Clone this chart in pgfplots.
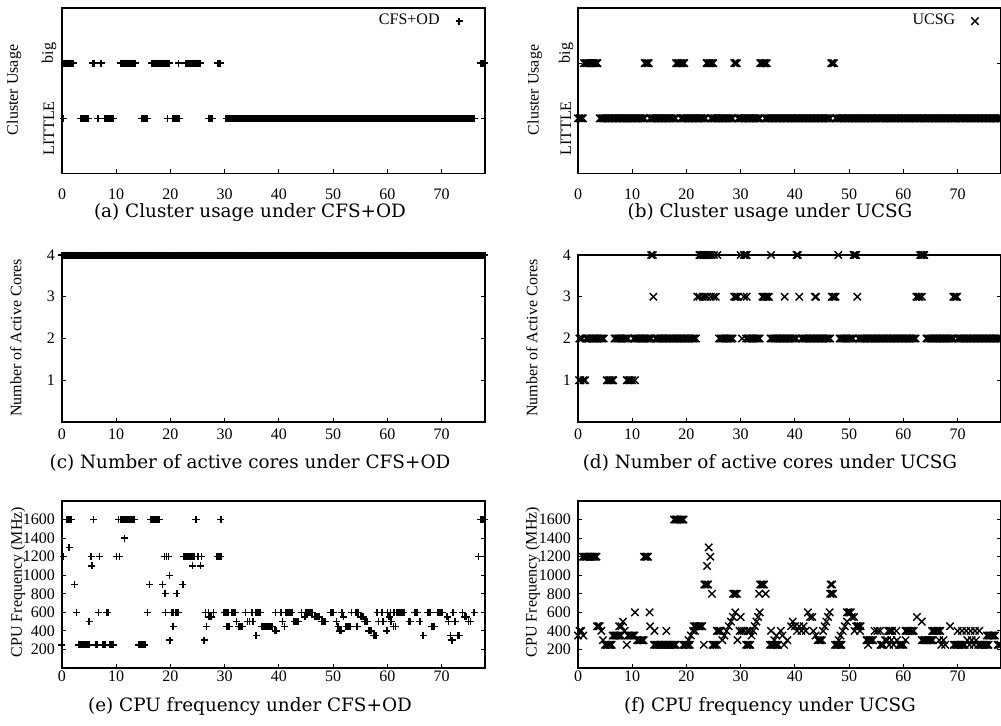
\documentclass[border=0pt]{standalone}
\usepackage{fontspec}
\setmainfont{Liberation Serif}
\newfontfamily\capfont{DejaVu Serif}
\usepackage{pgfplots}
\pgfplotsset{compat=1.18}

\newcommand\axfont{\fontsize{8}{9.6}\selectfont}
\newcommand\capsize{\capfont\fontsize{9.2}{11}\selectfont}

\pgfplotsset{
  panel/.style={
    scale only axis, width=211.5pt,
    xmin=0, xmax=78, xtick={0,10,...,70},
    tick align=inside, xtick pos=lower, ytick pos=both,
    major tick length=2.2pt,
    clip=false,
    axis line style={line width=0.6pt},
    every tick/.append style={line width=0.5pt, black},
    tick label style={font=\axfont},
    label style={font=\axfont},
    /pgf/number format/assume math mode=true,
    /pgf/number format/1000 sep={},
    legend plot pos=right,
    legend style={draw=none, fill=none, font=\axfont, at={(0.948,0.921)}, anchor=east,
      inner sep=0pt, column sep=6pt},
  },
  cfs/.style={only marks, mark=+, mark size=1.75pt, mark options={line width=0.7pt, black}},
  ucsg/.style={only marks, mark=x, mark size=2.6pt, mark options={line width=0.7pt, black}},
}

\begin{document}
\begin{tikzpicture}
\useasboundingbox (0,0) rectangle (500.5pt,-362.5pt);

% (a) cluster usage, CFS+OD
\begin{axis}[panel, at={(31pt,-86.75pt)}, anchor=south west, height=82.75pt,
  ymin=0, ymax=3, ytick={1,2}, yticklabels={,,}, xticklabel style={yshift=-4pt},
  ylabel={Cluster Usage}, ylabel style={at={(axis description cs:-0.1135,0.505)}, anchor=center}]
\addplot[cfs] coordinates {
(0.4,2)(0.65,2)(0.9,2)(1.15,2)(1.4,2)(1.65,2)(1.9,2)(2.1,2)(5.6,2)(5.8,2)(6.0,2)(7.2,2)
(10.75,2)(11,2)(11.25,2)(11.5,2)(11.75,2)(12,2)(12.25,2)(12.5,2)(12.75,2)(13,2)(13.25,2)(13.5,2)
(16.5,2)(16.75,2)(17,2)(17.25,2)(17.5,2)(17.75,2)(18,2)(18.25,2)(18.5,2)(18.75,2)(19,2)(19.25,2)(19.5,2)(19.75,2)
(21.5,2)(22.75,2)(23,2)(23.25,2)(23.5,2)(23.75,2)(24,2)(24.25,2)(24.5,2)(24.75,2)(25,2)(25.25,2)(25.5,2)
(28.75,2)(29,2)(29.25,2)(77.25,2)(77.5,2)(77.75,2)(78,2)
(0.25,1)(3.4,1)(3.65,1)(3.9,1)(4.15,1)(4.4,1)(4.65,1)(4.9,1)(6.5,1)(6.75,1)
(7.9,1)(8.15,1)(8.4,1)(8.65,1)(8.9,1)(9.15,1)(9.4,1)(9.5,1)(14.75,1)(15,1)(15.25,1)(15.5,1)(15.75,1)
(19.5,1)(20.5,1)(20.75,1)(21,1)(21.25,1)(21.5,1)(21.7,1)(27,1)(27.25,1)(27.5,1)(27.75,1)
(30.25,1)(30.5,1)(30.75,1)(31,1)(31.25,1)(31.5,1)(31.75,1)(32,1)(32.25,1)(32.5,1)(32.75,1)(33,1)(33.25,1)(33.5,1)
(33.75,1)(34,1)(34.25,1)(34.5,1)(34.75,1)(35,1)(35.25,1)(35.5,1)(35.75,1)(36,1)(36.25,1)(36.5,1)(36.75,1)(37,1)
(37.25,1)(37.5,1)(37.75,1)(38,1)(38.25,1)(38.5,1)(38.75,1)(39,1)(39.25,1)(39.5,1)(39.75,1)(40,1)(40.25,1)(40.5,1)
(40.75,1)(41,1)(41.25,1)(41.5,1)(41.75,1)(42,1)(42.25,1)(42.5,1)(42.75,1)(43,1)(43.25,1)(43.5,1)(43.75,1)(44,1)
(44.25,1)(44.5,1)(44.75,1)(45,1)(45.25,1)(45.5,1)(45.75,1)(46,1)(46.25,1)(46.5,1)(46.75,1)(47,1)(47.25,1)(47.5,1)
(47.75,1)(48,1)(48.25,1)(48.5,1)(48.75,1)(49,1)(49.25,1)(49.5,1)(49.75,1)(50,1)(50.25,1)(50.5,1)(50.75,1)(51,1)
(51.25,1)(51.5,1)(51.75,1)(52,1)(52.25,1)(52.5,1)(52.75,1)(53,1)(53.25,1)(53.5,1)(53.75,1)(54,1)(54.25,1)(54.5,1)
(54.75,1)(55,1)(55.25,1)(55.5,1)(55.75,1)(56,1)(56.25,1)(56.5,1)(56.75,1)(57,1)(57.25,1)(57.5,1)(57.75,1)(58,1)
(58.25,1)(58.5,1)(58.75,1)(59,1)(59.25,1)(59.5,1)(59.75,1)(60,1)(60.25,1)(60.5,1)(60.75,1)(61,1)(61.25,1)(61.5,1)
(61.75,1)(62,1)(62.25,1)(62.5,1)(62.75,1)(63,1)(63.25,1)(63.5,1)(63.75,1)(64,1)(64.25,1)(64.5,1)(64.75,1)(65,1)
(65.25,1)(65.5,1)(65.75,1)(66,1)(66.25,1)(66.5,1)(66.75,1)(67,1)(67.25,1)(67.5,1)(67.75,1)(68,1)(68.25,1)(68.5,1)
(68.75,1)(69,1)(69.25,1)(69.5,1)(69.75,1)(70,1)(70.25,1)(70.5,1)(70.75,1)(71,1)(71.25,1)(71.5,1)(71.75,1)(72,1)
(72.25,1)(72.5,1)(72.75,1)(73,1)(73.25,1)(73.5,1)(73.75,1)(74,1)(74.25,1)(74.5,1)(74.75,1)(75,1)(75.25,1)(75.5,1)
(75.75,1)(76,1)
};
\addlegendentry{CFS+OD}
\end{axis}

% (b) cluster usage, UCSG
\begin{axis}[panel, at={(289pt,-86.75pt)}, anchor=south west, height=82.75pt,
  ymin=0, ymax=3, ytick={1,2}, yticklabels={,,}, xticklabel style={yshift=-4pt},
  ylabel={Cluster Usage}, ylabel style={at={(axis description cs:-0.102,0.505)}, anchor=center}]
\addplot[ucsg] coordinates {
(1.1,2)(1.35,2)(1.6,2)(1.85,2)(2.1,2)(2.35,2)(2.6,2)(2.85,2)(3.1,2)(3.35,2)(3.6,2)
(12.3,2)(12.55,2)(12.8,2)(13.05,2)(18.1,2)(18.35,2)(18.6,2)(18.85,2)(19.1,2)(19.35,2)(19.6,2)
(23.7,2)(23.95,2)(24.2,2)(24.45,2)(24.7,2)(24.95,2)(28.8,2)(29.05,2)(29.3,2)
(33.6,2)(33.85,2)(34.1,2)(34.35,2)(34.6,2)(34.8,2)(46.7,2)(46.95,2)(47.2,2)
(0,1)(0.3,1)(0.6,1)(0.9,1)
(4,1)(4.25,1)(4.5,1)(4.75,1)(5,1)(5.25,1)(5.5,1)(5.75,1)(6,1)(6.25,1)(6.5,1)(6.75,1)(7,1)(7.25,1)(7.5,1)(7.75,1)
(8,1)(8.25,1)(8.5,1)(8.75,1)(9,1)(9.25,1)(9.5,1)(9.75,1)(10,1)(10.25,1)(10.5,1)(10.75,1)(11,1)(11.25,1)(11.5,1)
(11.75,1)(12,1)(12.25,1)
(13.25,1)(13.5,1)(13.75,1)(14,1)(14.25,1)(14.5,1)(14.75,1)(15,1)(15.25,1)(15.5,1)(15.75,1)(16,1)(16.25,1)(16.5,1)
(16.75,1)(17,1)(17.25,1)(17.5,1)(17.75,1)(18,1)
(19,1)(19.25,1)(19.5,1)(19.75,1)(20,1)(20.25,1)(20.5,1)(20.75,1)(21,1)(21.25,1)(21.5,1)(21.75,1)(22,1)(22.25,1)
(22.5,1)(22.75,1)(23,1)(23.25,1)(23.5,1)
(24.5,1)(24.75,1)(25,1)(25.25,1)(25.5,1)(25.75,1)(26,1)(26.25,1)(26.5,1)(26.75,1)(27,1)(27.25,1)(27.5,1)(27.75,1)
(28,1)(28.25,1)(28.5,1)
(29.5,1)(29.75,1)(30,1)(30.25,1)(30.5,1)(30.75,1)(31,1)(31.25,1)(31.5,1)(31.75,1)(32,1)(32.25,1)(32.5,1)(32.75,1)
(33,1)(33.25,1)(33.5,1)
(34.5,1)(34.75,1)(35,1)(35.25,1)(35.5,1)(35.75,1)(36,1)(36.25,1)(36.5,1)(36.75,1)(37,1)(37.25,1)(37.5,1)(37.75,1)
(38,1)(38.25,1)(38.5,1)(38.75,1)(39,1)(39.25,1)(39.5,1)(39.75,1)(40,1)(40.25,1)(40.5,1)(40.75,1)(41,1)(41.25,1)
(41.5,1)(41.75,1)(42,1)(42.25,1)(42.5,1)(42.75,1)(43,1)(43.25,1)(43.5,1)(43.75,1)(44,1)(44.25,1)(44.5,1)(44.75,1)
(45,1)(45.25,1)(45.5,1)(45.75,1)(46,1)(46.25,1)(46.5,1)
(47.5,1)(47.75,1)(48,1)(48.25,1)(48.5,1)(48.75,1)(49,1)(49.25,1)(49.5,1)(49.75,1)(50,1)(50.25,1)(50.5,1)(50.75,1)
(51,1)(51.25,1)(51.5,1)(51.75,1)(52,1)(52.25,1)(52.5,1)(52.75,1)(53,1)(53.25,1)(53.5,1)(53.75,1)(54,1)(54.25,1)
(54.5,1)(54.75,1)(55,1)(55.25,1)(55.5,1)(55.75,1)(56,1)(56.25,1)(56.5,1)(56.75,1)(57,1)(57.25,1)(57.5,1)(57.75,1)
(58,1)(58.25,1)(58.5,1)(58.75,1)(59,1)(59.25,1)(59.5,1)(59.75,1)(60,1)(60.25,1)(60.5,1)(60.75,1)(61,1)(61.25,1)
(61.5,1)(61.75,1)(62,1)(62.25,1)(62.5,1)(62.75,1)(63,1)(63.25,1)(63.5,1)(63.75,1)(64,1)(64.25,1)(64.5,1)(64.75,1)
(65,1)(65.25,1)(65.5,1)(65.75,1)(66,1)(66.25,1)(66.5,1)(66.75,1)(67,1)(67.25,1)(67.5,1)(67.75,1)(68,1)(68.25,1)
(68.5,1)(68.75,1)(69,1)(69.25,1)(69.5,1)(69.75,1)(70,1)(70.25,1)(70.5,1)(70.75,1)(71,1)(71.25,1)(71.5,1)(71.75,1)
(72,1)(72.25,1)(72.5,1)(72.75,1)(73,1)(73.25,1)(73.5,1)(73.75,1)(74,1)(74.25,1)(74.5,1)(74.75,1)(75,1)(75.25,1)
(75.5,1)(75.75,1)(76,1)(76.25,1)(76.5,1)(76.75,1)(77,1)(77.25,1)(77.5,1)(77.75,1)(78,1)
};
\addlegendentry{UCSG}
\end{axis}

% (c) active cores, CFS+OD
\begin{axis}[panel, at={(31pt,-211pt)}, anchor=south west, height=83.5pt,
  ymin=0, ymax=4, ytick={1,2,3,4}, xticklabel style={yshift=0pt},
  ylabel={Number of Active Cores}, ylabel style={at={(axis description cs:-0.109,0.503)}, anchor=center}]
\addplot[cfs] coordinates {
(0,4)(0.25,4)(0.5,4)(0.75,4)(1,4)(1.25,4)(1.5,4)(1.75,4)(2,4)(2.25,4)(2.5,4)(2.75,4)(3,4)(3.25,4)(3.5,4)(3.75,4)
(4,4)(4.25,4)(4.5,4)(4.75,4)(5,4)(5.25,4)(5.5,4)(5.75,4)(6,4)(6.25,4)(6.5,4)(6.75,4)(7,4)(7.25,4)(7.5,4)(7.75,4)
(8,4)(8.25,4)(8.5,4)(8.75,4)(9,4)(9.25,4)(9.5,4)(9.75,4)(10,4)(10.25,4)(10.5,4)(10.75,4)(11,4)(11.25,4)(11.5,4)
(11.75,4)(12,4)(12.25,4)(12.5,4)(12.75,4)(13,4)(13.25,4)(13.5,4)(13.75,4)(14,4)(14.25,4)(14.5,4)(14.75,4)(15,4)
(15.25,4)(15.5,4)(15.75,4)(16,4)(16.25,4)(16.5,4)(16.75,4)(17,4)(17.25,4)(17.5,4)(17.75,4)(18,4)(18.25,4)(18.5,4)
(18.75,4)(19,4)(19.25,4)(19.5,4)(19.75,4)(20,4)(20.25,4)(20.5,4)(20.75,4)(21,4)(21.25,4)(21.5,4)(21.75,4)(22,4)
(22.25,4)(22.5,4)(22.75,4)(23,4)(23.25,4)(23.5,4)(23.75,4)(24,4)(24.25,4)(24.5,4)(24.75,4)(25,4)(25.25,4)(25.5,4)
(25.75,4)(26,4)(26.25,4)(26.5,4)(26.75,4)(27,4)(27.25,4)(27.5,4)(27.75,4)(28,4)(28.25,4)(28.5,4)(28.75,4)(29,4)
(29.25,4)(29.5,4)(29.75,4)(30,4)(30.25,4)(30.5,4)(30.75,4)(31,4)(31.25,4)(31.5,4)(31.75,4)(32,4)(32.25,4)(32.5,4)
(32.75,4)(33,4)(33.25,4)(33.5,4)(33.75,4)(34,4)(34.25,4)(34.5,4)(34.75,4)(35,4)(35.25,4)(35.5,4)(35.75,4)(36,4)
(36.25,4)(36.5,4)(36.75,4)(37,4)(37.25,4)(37.5,4)(37.75,4)(38,4)(38.25,4)(38.5,4)(38.75,4)(39,4)(39.25,4)(39.5,4)
(39.75,4)(40,4)(40.25,4)(40.5,4)(40.75,4)(41,4)(41.25,4)(41.5,4)(41.75,4)(42,4)(42.25,4)(42.5,4)(42.75,4)(43,4)
(43.25,4)(43.5,4)(43.75,4)(44,4)(44.25,4)(44.5,4)(44.75,4)(45,4)(45.25,4)(45.5,4)(45.75,4)(46,4)(46.25,4)(46.5,4)
(46.75,4)(47,4)(47.25,4)(47.5,4)(47.75,4)(48,4)(48.25,4)(48.5,4)(48.75,4)(49,4)(49.25,4)(49.5,4)(49.75,4)(50,4)
(50.25,4)(50.5,4)(50.75,4)(51,4)(51.25,4)(51.5,4)(51.75,4)(52,4)(52.25,4)(52.5,4)(52.75,4)(53,4)(53.25,4)(53.5,4)
(53.75,4)(54,4)(54.25,4)(54.5,4)(54.75,4)(55,4)(55.25,4)(55.5,4)(55.75,4)(56,4)(56.25,4)(56.5,4)(56.75,4)(57,4)
(57.25,4)(57.5,4)(57.75,4)(58,4)(58.25,4)(58.5,4)(58.75,4)(59,4)(59.25,4)(59.5,4)(59.75,4)(60,4)(60.25,4)(60.5,4)
(60.75,4)(61,4)(61.25,4)(61.5,4)(61.75,4)(62,4)(62.25,4)(62.5,4)(62.75,4)(63,4)(63.25,4)(63.5,4)(63.75,4)(64,4)
(64.25,4)(64.5,4)(64.75,4)(65,4)(65.25,4)(65.5,4)(65.75,4)(66,4)(66.25,4)(66.5,4)(66.75,4)(67,4)(67.25,4)(67.5,4)
(67.75,4)(68,4)(68.25,4)(68.5,4)(68.75,4)(69,4)(69.25,4)(69.5,4)(69.75,4)(70,4)(70.25,4)(70.5,4)(70.75,4)(71,4)
(71.25,4)(71.5,4)(71.75,4)(72,4)(72.25,4)(72.5,4)(72.75,4)(73,4)(73.25,4)(73.5,4)(73.75,4)(74,4)(74.25,4)(74.5,4)
(74.75,4)(75,4)(75.25,4)(75.5,4)(75.75,4)(76,4)(76.25,4)(76.5,4)(76.75,4)(77,4)(77.25,4)(77.5,4)(77.75,4)(78,4)
};
\end{axis}

% (d) active cores, UCSG
\begin{axis}[panel, at={(289pt,-211pt)}, anchor=south west, height=83.5pt,
  ymin=0, ymax=4, ytick={1,2,3,4}, xticklabel style={yshift=0pt},
  ylabel={Number of Active Cores}, ylabel style={at={(axis description cs:-0.109,0.503)}, anchor=center}]
\addplot[ucsg] coordinates {
(0.2,1)(0.45,1)(1.0,1)(1.3,1)(5.3,1)(5.55,1)(5.8,1)(6.05,1)(6.3,1)(6.5,1)(9.0,1)(9.25,1)(9.5,1)(9.75,1)(10.0,1)(10.5,1)
(0.25,2)(0.5,2)(0.75,2)(1.5,2)(1.75,2)(2,2)(2.25,2)(2.5,2)(2.75,2)(3,2)(3.25,2)(3.5,2)(3.75,2)(4,2)(4.25,2)(4.5,2)
(4.75,2)(6.75,2)(7,2)(7.25,2)(7.5,2)(7.75,2)(8,2)(8.25,2)(8.5,2)(8.75,2)(9,2)(9.25,2)
(10.25,2)(10.5,2)(10.75,2)(11,2)(11.25,2)(11.5,2)(11.75,2)(12,2)(12.25,2)(12.5,2)(12.75,2)(13,2)(13.25,2)(13.5,2)
(14.25,2)(14.5,2)(14.75,2)(15,2)(15.25,2)(15.5,2)(15.75,2)(16,2)(16.25,2)(16.5,2)(16.75,2)(17,2)(17.25,2)(17.5,2)
(17.75,2)(18,2)(18.25,2)(18.5,2)(18.75,2)(19,2)(19.25,2)(19.5,2)(19.75,2)(20,2)(20.25,2)(20.5,2)(20.75,2)(21,2)
(21.25,2)(21.5,2)(21.75,2)
(26,2)(26.25,2)(26.5,2)(26.75,2)(27,2)(27.25,2)(27.5,2)(27.75,2)(28,2)(28.25,2)(28.5,2)(30.25,2)
(31,2)(31.25,2)(31.5,2)(31.75,2)(32,2)(32.25,2)(32.5,2)(32.75,2)(33,2)(33.25,2)(33.5,2)
(35.5,2)(35.75,2)(36,2)(36.25,2)(36.5,2)(36.75,2)(37,2)(37.25,2)(37.5,2)(37.75,2)(38,2)(38.25,2)(38.5,2)(38.75,2)
(39,2)(39.25,2)(39.5,2)(39.75,2)(40,2)(40.25,2)
(41.25,2)(41.5,2)(41.75,2)(42,2)(42.25,2)(42.5,2)(42.75,2)(43,2)(43.25,2)(43.5,2)(43.75,2)(44,2)(44.25,2)(44.5,2)
(44.75,2)(45,2)(45.25,2)(45.5,2)(45.75,2)(46,2)(46.25,2)(46.5,2)
(48.25,2)(48.5,2)(48.75,2)(49,2)(49.25,2)(49.5,2)(49.75,2)(50,2)(50.25,2)(50.5,2)(50.75,2)
(51.75,2)(52,2)(52.25,2)(52.5,2)(52.75,2)(53,2)(53.25,2)(53.5,2)(53.75,2)(54,2)(54.25,2)(54.5,2)(54.75,2)(55,2)
(55.25,2)(55.5,2)(55.75,2)(56,2)(56.25,2)(56.5,2)(56.75,2)(57,2)(57.25,2)(57.5,2)(57.75,2)(58,2)(58.25,2)(58.5,2)
(58.75,2)(59,2)(59.25,2)(59.5,2)(59.75,2)(60,2)(60.25,2)(60.5,2)(60.75,2)(61,2)(61.25,2)(61.5,2)(61.75,2)(62,2)
(62.25,2)
(64.25,2)(64.5,2)(64.75,2)(65,2)(65.25,2)(65.5,2)(65.75,2)(66,2)(66.25,2)(66.5,2)(66.75,2)(67,2)(67.25,2)(67.5,2)
(67.75,2)(68,2)(68.25,2)(68.5,2)(68.75,2)(69,2)(69.25,2)
(70,2)(70.25,2)(70.5,2)(70.75,2)(71,2)(71.25,2)(71.5,2)(71.75,2)(72,2)(72.25,2)(72.5,2)(72.75,2)(73,2)(73.25,2)
(73.5,2)(73.75,2)(74,2)(74.25,2)(74.5,2)(74.75,2)(75,2)(75.25,2)(75.5,2)(75.75,2)(76,2)(76.25,2)(76.5,2)(76.75,2)
(77,2)(77.25,2)(77.5,2)(77.75,2)(78,2)
(13.9,3)(22.0,3)(22.4,3)(23.0,3)(23.4,3)(23.8,3)(24.5,3)(25.0,3)(25.4,3)(28.8,3)(29.05,3)(29.3,3)(29.5,3)(30.6,3)(31.1,3)
(34.0,3)(34.25,3)(34.5,3)(34.75,3)(35.0,3)(35.2,3)(38.1,3)(40.8,3)(43.7,3)(43.9,3)(46.8,3)(47.05,3)(47.3,3)(47.5,3)(51.5,3)
(62.4,3)(62.7,3)(63.0,3)(63.4,3)(69.2,3)(69.45,3)(69.7,3)(69.9,3)
(13.5,4)(13.8,4)(22.4,4)(22.65,4)(22.9,4)(23.15,4)(23.4,4)(23.65,4)(23.9,4)(24.2,4)(24.6,4)(25.1,4)(25.7,4)(30.0,4)(30.6,4)
(30.85,4)(31.1,4)(35.6,4)(40.3,4)(40.55,4)(48.0,4)(50.8,4)(51.05,4)(51.3,4)(63.1,4)(63.35,4)(63.6,4)(63.85,4)
};
\end{axis}

% (e) CPU frequency, CFS+OD
\begin{axis}[panel, at={(31pt,-334pt)}, anchor=south west, height=83.5pt,
  ymin=0, ymax=1800, ytick={200,400,...,1600}, xticklabel style={yshift=2pt},
  ylabel={CPU Frequency (MHz)}, ylabel style={at={(axis description cs:-0.104,0.515)}, anchor=center}]
\addplot[cfs] coordinates {
(0.8,1600)(1.05,1600)(1.3,1600)(1.55,1600)(1.8,1600)(5.8,1600)(10.4,1600)(10.9,1600)(11.15,1600)(11.4,1600)
(11.65,1600)(11.9,1600)(12.15,1600)(12.4,1600)(12.65,1600)(12.9,1600)(13.15,1600)(13.4,1600)
(16.3,1600)(16.55,1600)(16.8,1600)(17.05,1600)(17.3,1600)(17.55,1600)(17.8,1600)(18.0,1600)(24.6,1600)(24.8,1600)
(29.3,1600)(77.2,1600)(77.45,1600)(77.7,1600)(77.9,1600)
(11.5,1400)(1.3,1300)
(0.2,1200)(5.35,1200)(6.9,1200)(10.0,1200)(10.6,1200)(18.9,1200)(19.3,1200)(19.6,1200)(22.4,1200)(22.65,1200)
(22.9,1200)(23.15,1200)(23.4,1200)(23.65,1200)(23.9,1200)(24.15,1200)(24.35,1200)(25.1,1200)(25.7,1200)
(28.6,1200)(28.85,1200)(29.1,1200)(29.3,1200)(76.8,1200)
(5.5,1100)(24.1,1100)(25.5,1100)(19.8,1000)
(2.3,900)(16.1,900)(18.5,900)(22.3,900)(19.0,800)(21.2,800)
(2.7,600)(6.7,600)(8.2,600)(8.45,600)(15.8,600)(19.1,600)(20.3,600)(20.6,600)(20.9,600)(21.2,600)(21.5,600)(26.5,600)
(27.0,600)(27.9,600)(29.9,600)(30.15,600)(30.4,600)(30.65,600)(31.3,600)(31.55,600)(31.8,600)(32.0,600)(33.8,600)
(35.0,600)(35.8,600)(36.05,600)(36.3,600)(36.55,600)(39.4,600)(40.4,600)(41.2,600)(41.45,600)(41.7,600)(41.95,600)
(42.2,600)(42.4,600)(44.2,600)(44.9,600)(45.15,600)(45.4,600)(45.65,600)(45.9,600)(46.1,600)(49.6,600)(49.85,600)
(50.1,600)(51.6,600)(53.4,600)(54.2,600)(54.45,600)(54.7,600)(58.1,600)(59.0,600)(60.0,600)(60.6,600)(61.2,600)
(61.8,600)(62.05,600)(62.3,600)(62.55,600)(62.8,600)(63.05,600)(65.0,600)(65.25,600)(65.5,600)(67.4,600)(67.65,600)
(67.9,600)(69.2,600)(69.45,600)(69.7,600)(69.95,600)(70.2,600)(72.1,600)(73.9,600)(76.0,600)
(27.1,550)(27.35,550)(27.6,550)(44.8,550)(46.6,550)(46.85,550)(47.1,550)(47.4,550)(51.9,550)(55.0,550)(55.3,550)
(55.6,550)(60.3,550)(71.0,550)(74.3,550)(74.6,550)
(5.0,500)(32.2,500)(34.2,500)(34.6,500)(35.2,500)(40.7,500)(42.8,500)(43.05,500)(43.3,500)(43.6,500)(47.8,500)
(48.05,500)(48.3,500)(48.6,500)(50.6,500)(55.8,500)(56.05,500)(56.3,500)(58.4,500)(59.2,500)(60.7,500)(64.0,500)
(64.3,500)(66.0,500)(71.3,500)(72.5,500)(75.0,500)(75.3,500)
(20.5,450)(26.6,450)(30.4,450)(30.65,450)(30.9,450)(32.6,450)(32.85,450)(33.1,450)(33.3,450)(36.8,450)(37.05,450)
(37.3,450)(37.55,450)(37.8,450)(38.05,450)(38.3,450)(38.55,450)(38.8,450)(41.0,450)(50.9,450)(52.4,450)(52.65,450)
(52.9,450)(53.15,450)(54.4,450)(61.1,450)(61.5,450)(68.2,450)(68.45,450)(68.7,450)
(39.3,400)(39.6,400)(51.2,400)(51.45,400)(56.6,400)(56.85,400)(57.1,400)(59.9,400)
(35.8,350)(57.4,350)(57.65,350)(57.9,350)(66.6,350)(71.6,350)(73.0,350)(73.25,350)
(19.9,300)(26.2,300)(71.8,300)(72.0,300)
(0.0,250)(3.0,250)(3.25,250)(3.5,250)(3.75,250)(4.0,250)(4.25,250)(4.5,250)(4.75,250)(4.95,250)(6.2,250)(6.45,250)
(7.5,250)(7.75,250)(8.0,250)(8.8,250)(9.05,250)(9.3,250)(9.5,250)(14.1,250)(14.35,250)(14.6,250)(14.85,250)
(15.1,250)(15.3,250)
};
\end{axis}

% (f) CPU frequency, UCSG
\begin{axis}[panel, at={(289pt,-334pt)}, anchor=south west, height=83.5pt,
  ymin=0, ymax=1800, ytick={200,400,...,1600}, xticklabel style={yshift=2pt},
  ylabel={CPU Frequency (MHz)}, ylabel style={at={(axis description cs:-0.107,0.515)}, anchor=center}]
\addplot[ucsg] coordinates {
(0.9,1200)(1.15,1200)(1.4,1200)(1.65,1200)(1.9,1200)(2.15,1200)(2.4,1200)(2.65,1200)(2.9,1200)(3.15,1200)(3.4,1200)
(12.2,1200)(12.45,1200)(12.7,1200)(12.9,1200)
(17.7,1600)(17.95,1600)(18.2,1600)(18.45,1600)(18.7,1600)(18.95,1600)(19.2,1600)(19.45,1600)
(24.1,1300)(24.4,1200)(23.8,1100)(23.3,900)(23.55,900)(23.8,900)(24.0,900)(24.7,800)
(28.6,800)(28.85,800)(29.1,800)(29.3,800)(33.6,900)(33.85,900)(34.1,900)(34.3,900)(33.4,800)(34.6,800)
(46.6,900)(46.85,900)(46.5,800)(46.8,800)(47.05,800)
(10.5,600)(13.2,600)
(0.0,350)(0.3,400)(0.6,400)(1.0,350)(3.5,450)(3.75,450)(4.0,450)(4.3,400)(4.6,300)
(5.0,250)(5.25,250)(5.5,250)(5.75,250)(6.0,250)(6.2,250)(6.4,350)(6.65,350)(6.9,350)(7.15,350)(7.4,350)(7.65,350)(7.9,350)
(7.6,450)(8.0,450)(8.3,500)(8.6,400)(9.0,250)(9.2,350)(9.45,350)(9.7,350)(9.95,350)(10.2,350)(10.4,350)
(10.9,300)(11.15,300)(11.4,300)(11.65,300)(11.9,300)(12.1,300)(13.3,450)(14.1,400)
(14.0,250)(14.25,250)(14.5,250)(14.75,250)(15.0,250)(15.25,250)(15.5,250)(15.75,250)(16.0,250)(16.25,250)(16.5,250)
(16.75,250)(17.0,250)(17.25,250)(17.5,250)(17.75,250)(18.0,250)
(16.3,400)(19.4,250)(19.65,250)(19.9,250)(20.15,250)(20.4,250)(20.6,250)(20.4,300)(20.8,350)(21.2,400)(21.6,400)
(21.4,450)(21.65,450)(21.9,450)(22.15,450)(22.4,450)(22.65,450)(22.9,450)(23.2,250)(24.8,250)(25.05,250)(25.3,250)(25.6,250)
(25.6,400)(25.85,400)(26.1,400)(26.3,400)
(26.6,300)(27.0,350)(27.4,400)(27.8,450)(28.2,500)(28.6,550)(29.0,600)
(29.4,300)(30.0,550)(29.8,400)(30.2,400)(30.6,400)(31.3,400)(31.7,400)(31.0,250)(31.25,250)(31.5,250)(31.75,250)
(32.0,350)(32.3,400)(32.6,450)(32.9,500)(33.2,550)(33.5,600)
(35.4,250)(35.65,250)(35.9,250)(36.15,250)(36.4,250)(36.65,250)(36.9,250)(35.6,400)(36.2,300)(36.6,350)(37.4,400)
(37.7,350)(38.0,250)(38.6,300)
(39.3,450)(39.6,500)(40.0,450)(40.4,400)(40.8,450)(41.2,400)(41.6,450)(42.0,400)
(42.4,600)(42.8,550)(43.2,550)(43.4,400)(43.8,350)(44.2,300)(44.45,300)(44.7,300)(45.0,300)
(45.2,400)(45.5,450)(45.8,500)(46.1,550)(46.4,600)
(47.4,250)(47.65,250)(47.9,250)(48.15,250)(48.4,250)(48.6,250)(48.1,300)(48.4,350)(48.8,400)(49.2,450)(49.6,500)
(49.6,600)(49.85,600)(50.1,600)(50.3,600)(50.5,550)(50.9,550)(51.0,400)(51.3,450)(51.55,450)(51.8,450)(52.1,450)(52.0,400)
(53.2,300)(53.45,300)(53.7,300)(53.95,300)(54.2,300)(54.4,300)(53.5,250)(54.7,400)(55.2,400)(55.7,400)
(55.8,250)(56.05,250)(56.3,250)(56.6,300)(57.0,300)(57.4,250)(57.2,400)(57.45,400)(57.7,400)(57.95,400)(58.7,400)
(57.8,300)(58.2,250)(58.8,300)(59.2,250)(59.45,250)(59.7,250)(60.0,250)(60.4,300)
(60.4,400)(60.65,400)(60.9,400)(61.15,400)(61.4,400)(61.65,400)(61.9,400)(62.5,550)(63.4,500)
(63.4,300)(63.65,300)(63.9,300)(64.15,300)(64.4,300)(64.65,300)(64.9,300)(65.15,300)(65.4,300)
(65.3,400)(65.55,400)(65.8,400)(66.05,400)(66.3,400)(66.55,400)(66.8,400)(66.6,300)(67.0,250)(67.4,300)(67.7,250)(68.6,450)
(69.3,250)(69.55,250)(69.8,250)(70.05,250)(70.3,250)(70.55,250)(70.8,250)(71.05,250)(71.3,250)
(70.0,400)(70.8,400)(71.6,400)(72.4,400)(73.2,400)(74.0,400)
(71.8,300)(72.2,250)(72.6,300)(73.0,250)(73.4,300)(73.8,250)
(74.2,250)(74.45,250)(74.7,250)(74.95,250)(75.2,250)(75.45,250)(75.7,250)
(75.4,350)(75.65,350)(75.9,350)(76.15,350)(76.4,350)(76.65,350)(76.9,350)
(77.4,250)(77.65,250)(77.9,250)
};
\end{axis}

% rotated tick names of the cluster axes
\node[rotate=90, font=\axfont] at (24.5pt,-26.5pt) {big};
\node[rotate=90, font=\axfont] at (24.5pt,-64.25pt) {LITTLE};
\node[rotate=90, font=\axfont] at (283pt,-26.5pt) {big};
\node[rotate=90, font=\axfont] at (283pt,-64.25pt) {LITTLE};

% sub-captions
\node[font=\capsize] at (125pt,-106.5pt) {(a) Cluster usage under CFS+OD};
\node[font=\capsize] at (385pt,-106.5pt) {(b) Cluster usage under UCSG};
\node[font=\capsize] at (125pt,-231.5pt) {(c) Number of active cores under CFS+OD};
\node[font=\capsize] at (385pt,-231.5pt) {(d) Number of active cores under UCSG};
\node[font=\capsize] at (125pt,-353.5pt) {(e) CPU frequency under CFS+OD};
\node[font=\capsize] at (385pt,-353.5pt) {(f) CPU frequency under UCSG};
\end{tikzpicture}
\end{document}
